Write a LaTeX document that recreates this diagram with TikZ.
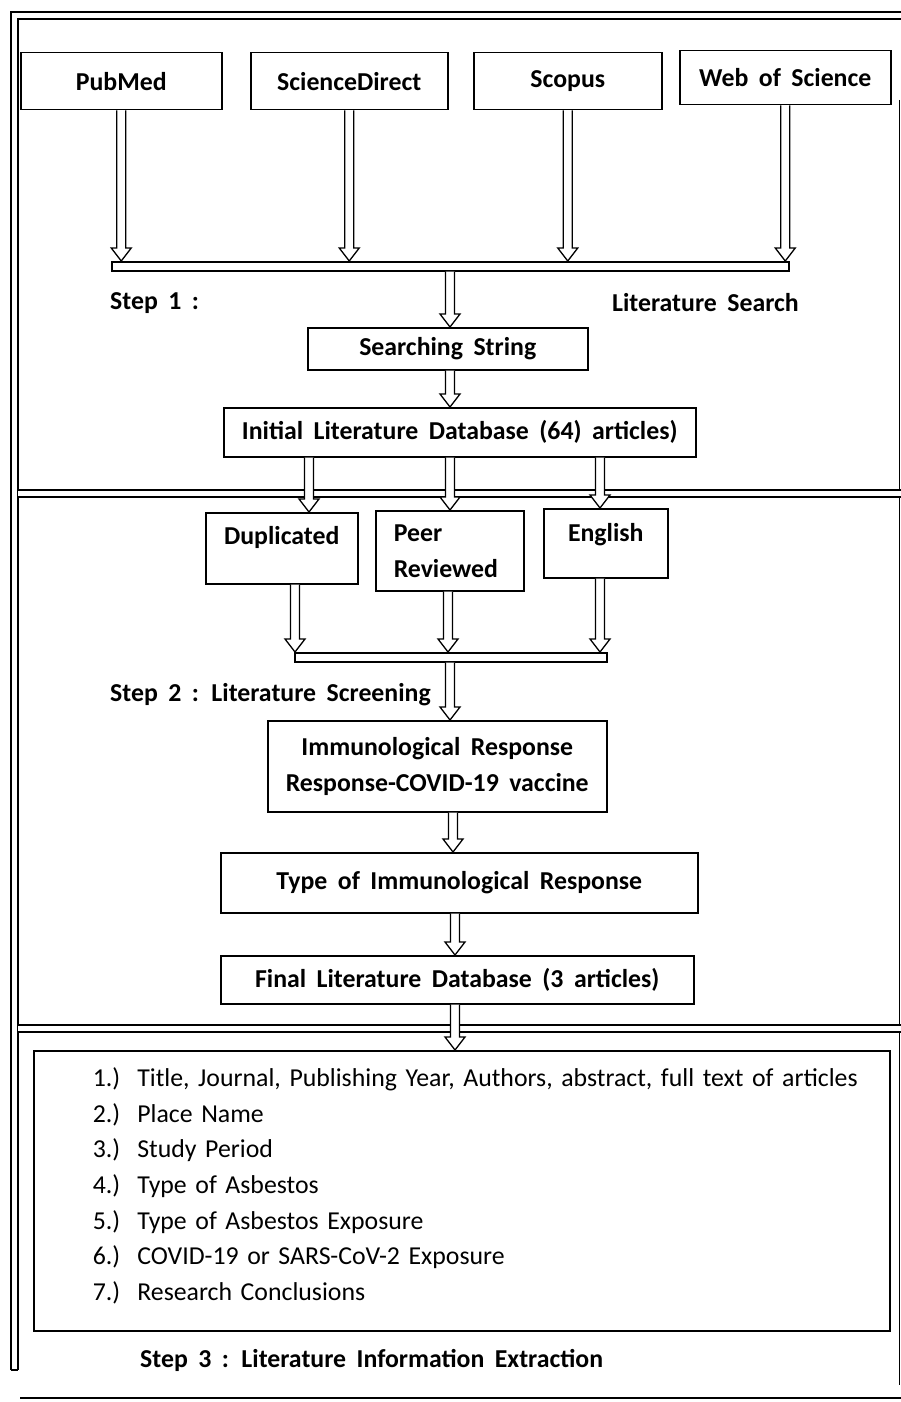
\documentclass[tikz,border=0pt]{standalone}
\usepackage{fontspec}
\setmainfont{Carlito}[WordSpace=1.8]
\usetikzlibrary{calc}

\newcommand{\flowsize}{\fontsize{25.8}{36}\selectfont}

\tikzset{
  box/.style={draw, line width=1.5pt, inner sep=0pt, anchor=north west, align=center, font=\flowsize\bfseries},
  bar/.style={draw, line width=1.5pt, inner sep=0pt, anchor=north west, minimum height=9pt},
  frame/.style={draw, line width=1.5pt, double, double distance=5.5pt},
  steptext/.style={anchor=west, inner sep=0pt, font=\flowsize\bfseries},
  hollow/.style={draw, line width=1.3pt, fill=white,
    to path={let \p1=(\tikztostart), \p2=(\tikztotarget) in
      (\x1-4.5pt,\y1) -- (\x1-4.5pt,\y2+13pt) -- (\x1-10pt,\y2+13pt) -- (\x1,\y2)
      -- (\x1+10pt,\y2+13pt) -- (\x1+4.5pt,\y2+13pt) -- (\x1+4.5pt,\y1)}}
}

\begin{document}
\begin{tikzpicture}[x=1pt,y=-1pt]
\useasboundingbox (0,0) rectangle (901,1402);

% frame
\draw[frame] (14.5,1370) -- (14.5,15.5) -- (901,15.5);
\draw[line width=1.5pt] (11,1370) -- (18,1370);
\draw[line width=1.5pt] (899.5,100) -- (899.5,1385);
\draw[frame] (18,493.5) -- (901,493.5);
\draw[frame] (18,1028.5) -- (901,1028.5);
\draw[line width=2pt] (20,1398) -- (901,1398);

% databases
\node[box, minimum width=201pt, minimum height=57pt] (pub) at (20,52) {PubMed};
\node[box, minimum width=197pt, minimum height=57pt] (sd) at (250,52) {ScienceDirect};
\node[box, minimum width=188pt, minimum height=57pt] (scop) at (473,52) {Scopus};
\node[box, minimum width=211pt, minimum height=54pt] (wos) at (679,50) {Web of Science};
\node[bar, minimum width=677pt] (bar1) at (111,261) {};

\draw[hollow] (pub.south) to (pub.south |- bar1.north);
\draw[hollow] (sd.south) to (sd.south |- bar1.north);
\draw[hollow] (scop.south) to (scop.south |- bar1.north);
\draw[hollow] (wos.south) to (wos.south |- bar1.north);

% step 1
\node[steptext] (s1) at (110,303) {Step 1 :};
\node[steptext] (s1b) at (612,303) {Literature Search};
\node[box, minimum width=280pt, minimum height=42pt] (search) at (307,327) {Searching String};
\node[box, minimum width=472pt, minimum height=49pt] (init) at (223,407) {Initial Literature Database (64) articles)};

\coordinate (c0) at (450,0);
\draw[hollow] (bar1.south -| c0) to (search.north -| c0);
\draw[hollow] (search.south -| c0) to (init.north -| c0);

% step 2
\node[box, minimum width=152pt, text height=32pt, text depth=39pt] (dup) at (205,512) {Duplicated};
\node[box, align=left, text width=112pt, inner xsep=18pt, minimum height=80pt] (peer) at (375,510) {Peer\\Reviewed};
\node[box, minimum width=124pt, text height=33pt, text depth=36pt] (eng) at (543,508) {English};

\coordinate (c1) at (309,0);
\coordinate (c2) at (450,0);
\coordinate (c3) at (600,0);
\draw[hollow] (init.south -| c1) to (dup.north -| c1);
\draw[hollow] (init.south -| c2) to (peer.north -| c2);
\draw[hollow] (init.south -| c3) to (eng.north -| c3);

\node[bar, minimum width=312pt] (bar2) at (294,652) {};
\coordinate (d1) at (295,0);
\coordinate (d2) at (448,0);
\coordinate (d3) at (600,0);
\draw[hollow] (dup.south -| d1) to (bar2.north -| d1);
\draw[hollow] (peer.south -| d2) to (bar2.north -| d2);
\draw[hollow] (eng.south -| d3) to (bar2.north -| d3);

\node[steptext] (s2) at (110,695) {Step 2 : Literature Screening};
\node[box, minimum width=339pt, minimum height=91pt] (imm) at (267,720) {Immunological Response\\Response-COVID-19 vaccine};
\node[box, minimum width=477pt, minimum height=60pt] (type) at (220,852) {Type of Immunological Response};
\node[box, minimum width=473pt, minimum height=48pt] (final) at (220,955) {Final Literature Database (3 articles)};

\coordinate (e1) at (450,0);
\coordinate (e2) at (453,0);
\coordinate (e3) at (455,0);
\draw[hollow] (bar2.south -| e1) to (imm.north -| e1);
\draw[hollow] (imm.south -| e2) to (type.north -| e2);
\draw[hollow] (type.south -| e3) to (final.north -| e3);

% step 3
\node[box, align=left, font=\fontsize{25.8}{35.7}\selectfont, text width=794pt, inner xsep=31pt, text height=9pt, minimum height=280pt] (list) at (33,1050)
  {\hspace*{28pt}1.)\ \ Title, Journal, Publishing Year, Authors, abstract, full text of articles\\
   \hspace*{28pt}2.)\ \ Place Name\\
   \hspace*{28pt}3.)\ \ Study Period\\
   \hspace*{28pt}4.)\ \ Type of Asbestos\\
   \hspace*{28pt}5.)\ \ Type of Asbestos Exposure\\
   \hspace*{28pt}6.)\ \ COVID-19 or SARS-CoV-2 Exposure\\
   \hspace*{28pt}7.)\ \ Research Conclusions};
\draw[hollow] (final.south -| e3) to (list.north -| e3);

\node[steptext] (s3) at (140,1360) {Step 3 : Literature Information Extraction};
\end{tikzpicture}
\end{document}
